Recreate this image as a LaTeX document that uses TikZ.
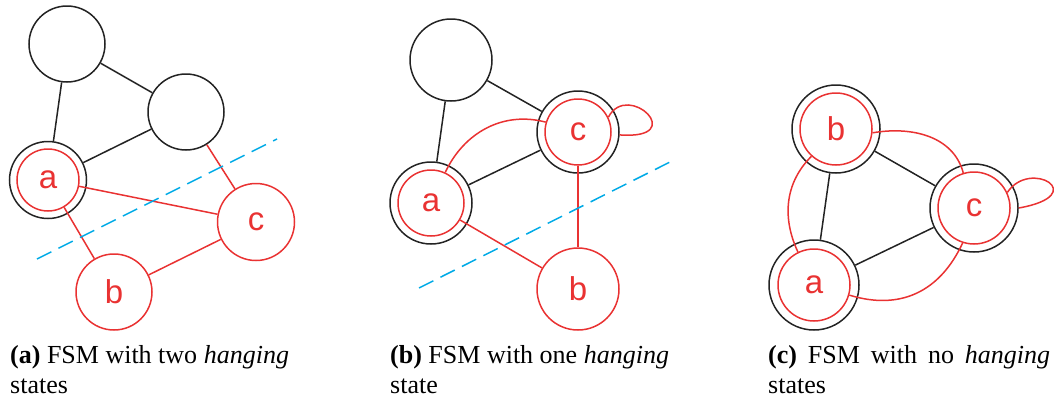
\documentclass[tikz,border=0pt]{standalone}
\usepackage{fontspec}
\setmainfont{Liberation Serif}
\newfontfamily\lsans{Liberation Sans}
\definecolor{fsmred}{RGB}{233,50,50}
\definecolor{fsmblack}{RGB}{35,35,35}
\definecolor{cutblue}{RGB}{0,170,230}
\begin{document}
\begin{tikzpicture}[x=1pt,y=-1pt,
  st/.style={circle, draw=fsmblack, line width=1.5pt, inner sep=0pt, minimum size=#1},
  rst/.style={circle, draw=fsmred, line width=1.5pt, inner sep=0pt, minimum size=#1,
    text=fsmred, font=\lsans\fontsize{33}{33}\selectfont},
  bl/.style={draw=fsmblack, line width=1.5pt},
  rl/.style={draw=fsmred, line width=1.5pt},
  cutline/.style={draw=cutblue, line width=1.5pt, dash pattern=on 16pt off 8pt},
  captext/.style={anchor=base west, inner sep=0pt, font=\fontsize{26}{30}\selectfont}
]
\useasboundingbox (0,0) rectangle (1054,402);

% ---------- panel (a)
\node[st=76] (a1) at (67,44) {};
\node[st=76] (a2) at (186,112) {};
\node[rst=62] (aa) at (48,180) {a};
\node[st=77] (aao) at (48,180) {};
\node[rst=77] (ac) at (256,222) {c};
\node[rst=76] (ab) at (114,292) {b};
\draw[bl] (a1) -- (a2);
\draw[bl] (a1) -- (aao);
\draw[bl] (aao) -- (a2);
\draw[rl] (a2) -- (ac);
\draw[rl] (aa) -- (ac);
\draw[rl] (aa) -- (ab);
\draw[rl] (ab) -- (ac);
\coordinate (acut1) at (37,259);
\coordinate (acut2) at (277,139);
\draw[cutline] (acut1) -- (acut2);

% ---------- panel (b)
\node[st=82] (b1) at (451,60) {};
\node[rst=66] (bc) at (578,132) {c};
\node[st=82] (bco) at (578,132) {};
\node[rst=66] (ba) at (431,203) {a};
\node[st=82] (bao) at (431,203) {};
\node[rst=82] (bb) at (578,289) {b};
\draw[bl] (b1) -- (bao);
\draw[bl] (b1) -- (bco);
\draw[bl] (bao) -- (bco);
\draw[rl] (bc) -- (bb);
\draw[rl] (ba) -- (bb);
\draw[rl] (ba.65) to[out=65, in=165] (bc.163);
\draw[rl] (bc.26) .. controls (628,80) and (690,140) .. (bco.-4);
\coordinate (bcut1) at (419,288);
\coordinate (bcut2) at (674,160);
\draw[cutline] (bcut1) -- (bcut2);

% ---------- panel (c)
\node[rst=72] (cb) at (836,129) {b};
\node[st=88] (cbo) at (836,129) {};
\node[rst=72] (cc) at (974,208) {c};
\node[st=88] (cco) at (974,208) {};
\node[rst=72] (ca) at (814,285) {a};
\node[st=90] (cao) at (814,285) {};
\draw[bl] (cbo) -- (cao);
\draw[bl] (cbo) -- (cco);
\draw[bl] (cao) -- (cco);
\draw[rl] (cb.-6) to[out=10, in=105] (cc.107);
\draw[rl] (cb.228) to[out=225, in=115] (ca.116);
\draw[rl] (ca.-16) to[out=-17, in=245, looseness=1.1] (cc.252);
\draw[rl] (cc.25) .. controls (1030,158) and (1092,195) .. (cco.0);

% ---------- captions
\node[captext] (capa1) at (10,363) {\textbf{(a)} FSM with two \textit{hanging}};
\node[captext] (capa2) at (10,393) {states};
\node[captext] (capb1) at (390,363) {\textbf{(b)} FSM with one \textit{hanging}};
\node[captext] (capb2) at (390,393) {state};
\node[captext] (capc1) at (768,363) {\makebox[282pt][s]{\textbf{(c)} FSM with no \textit{hanging}}};
\node[captext] (capc2) at (768,393) {states};
\end{tikzpicture}
\end{document}
